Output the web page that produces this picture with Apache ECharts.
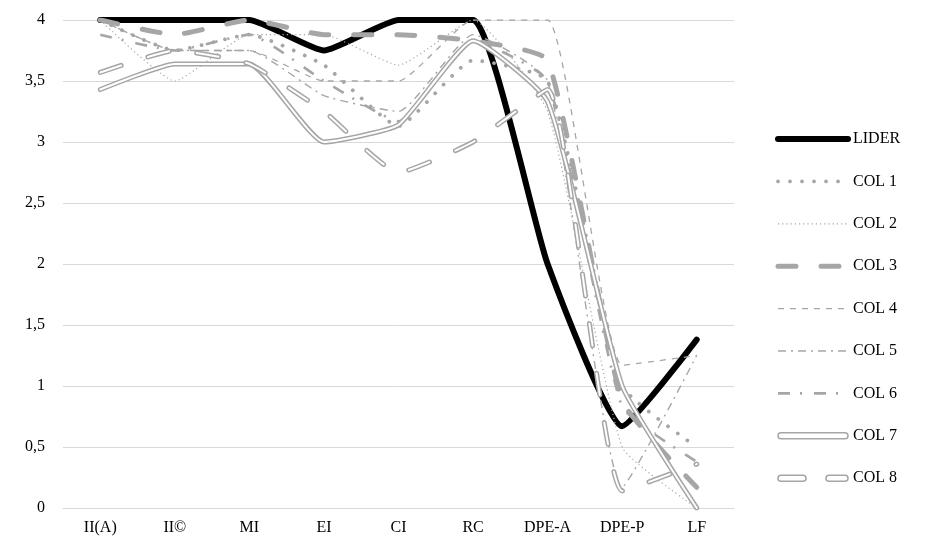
<!DOCTYPE html>
<html>
<head>
<meta charset="utf-8">
<script src="https://cdn.jsdelivr.net/npm/echarts@6/dist/echarts.min.js"></script>
<style>
html,body{margin:0;padding:0;background:#fff;}
#c{width:925px;height:548px;}
</style>
</head>
<body>
<div id="c"></div>
<script>
var categories = ['II(A)', 'II©', 'MI', 'EI', 'CI', 'RC', 'DPE-A', 'DPE-P', 'LF'];
var yTicks = [0, 0.5, 1, 1.5, 2, 2.5, 3, 3.5, 4];
var lider = [4, 4, 4, 3.75, 4, 4, 2, 0.67, 1.38];
var col1 = [4, 3.75, 3.88, 3.63, 3.13, 3.67, 3.5, 1, 0.5];
var col2 = [4, 3.5, 3.88, 3.88, 3.63, 4, 3.25, 0.5, 0];
var col3 = [4, 3.88, 4, 3.88, 3.88, 3.83, 3.67, 0.88, 0.17];
var col4 = [4, 3.75, 3.75, 3.5, 3.5, 4, 4, 1.17, 1.25];
var col5 = [4, 3.75, 3.75, 3.38, 3.25, 3.88, 3.5, 0.17, 1.25];
var col6 = [3.88, 3.75, 3.88, 3.5, 3.17, 3.83, 3.5, 0.83, 0.38];
var col7 = [3.43, 3.64, 3.64, 3, 3.14, 3.83, 3.33, 1, 0];
var col8 = [3.57, 3.75, 3.64, 3.25, 2.75, 3, 3.43, 0.14, 0.36];

var GRAY = '#a6a6a6';
var FONT = '"Liberation Serif", "Times New Roman", serif';
var SM = 0.15;

function line(name, data, ls) {
  return {
    name: name, type: 'line', data: data, smooth: SM, symbol: 'none',
    color: ls.color, itemStyle: {color: ls.color},
    lineStyle: ls, animation: false, silent: true
  };
}

var series = [
  line('LIDER', lider, {color: '#000', width: 6, type: 'solid', cap: 'round', join: 'round'}),
  line('COL 1', col1, {color: GRAY, width: 3.8, type: [0.01, 12], cap: 'round'}),
  line('COL 2', col2, {color: GRAY, width: 1.2, type: [1.2, 3], cap: 'butt'}),
  line('COL 3', col3, {color: GRAY, width: 5, type: [18, 25], cap: 'round'}),
  line('COL 4', col4, {color: GRAY, width: 1.3, type: [6, 6], cap: 'butt'}),
  line('COL 5', col5, {color: GRAY, width: 1.4, type: [8, 5, 2, 5], cap: 'butt'}),
  line('COL 6', col6, {color: GRAY, width: 2.6, type: [12, 10, 2, 12], cap: 'butt'}),
  line('COL 7', col7, {color: GRAY, width: 5, type: 'solid', cap: 'round', join: 'round'}),
  line('col7inner', col7, {color: '#fff', width: 2, type: 'solid', cap: 'round', join: 'round'}),
  line('COL 8', col8, {color: GRAY, width: 5, type: [22, 28], cap: 'round'}),
  line('col8inner', col8, {color: '#fff', width: 2, type: [22, 28], cap: 'round'})
];

var pillOne = 'path://M3,0 L67,0 A3,3 0 0 1 67,6 L3,6 A3,3 0 0 1 3,0 Z';
var pillTwo = 'path://M3,0 L25,0 A3,3 0 0 1 25,6 L3,6 A3,3 0 0 1 3,0 Z M51,0 L67,0 A3,3 0 0 1 67,6 L51,6 A3,3 0 0 1 51,0 Z';

var legendData = ['LIDER', 'COL 1', 'COL 2', 'COL 3', 'COL 4', 'COL 5', 'COL 6',
  {name: 'COL 7', icon: pillOne, itemStyle: {color: '#fff', borderColor: GRAY, borderWidth: 1.5, opacity: 1}},
  {name: 'COL 8', icon: pillTwo, itemStyle: {color: '#fff', borderColor: GRAY, borderWidth: 1.5, opacity: 1}}
];

var chart = echarts.init(document.getElementById('c'), null, {renderer: 'canvas'});
chart.setOption({
  animation: false,
  backgroundColor: '#fff',
  textStyle: {fontFamily: FONT},
  grid: {left: 63, right: 191, top: 20, bottom: 40, containLabel: false},
  xAxis: {
    type: 'category', data: categories, boundaryGap: true,
    axisLine: {show: true, lineStyle: {color: '#d9d9d9', width: 1}},
    axisTick: {show: false},
    axisLabel: {color: '#000', fontSize: 16, fontFamily: FONT, margin: 12, interval: 0},
    splitLine: {show: false}
  },
  yAxis: {
    type: 'value', min: yTicks[0], max: yTicks[yTicks.length - 1], interval: 0.5,
    axisLine: {show: false}, axisTick: {show: false},
    axisLabel: {color: '#000', fontSize: 16, fontFamily: FONT, margin: 18,
      formatter: function (v) { return String(v).replace('.', ','); }},
    splitLine: {show: true, lineStyle: {color: '#d9d9d9', width: 1}}
  },
  legend: {
    orient: 'vertical', left: 775, top: 131, padding: 0,
    itemWidth: 70, itemHeight: 6, itemGap: 26.4,
    data: legendData,
    itemStyle: {opacity: 0},
    textStyle: {color: '#000', fontSize: 16, fontFamily: FONT, lineHeight: 16},
    lineStyle: {width: 'inherit', type: 'inherit', cap: 'inherit', opacity: 1},
    selectedMode: false
  },
  series: series
});
</script>
</body>
</html>
